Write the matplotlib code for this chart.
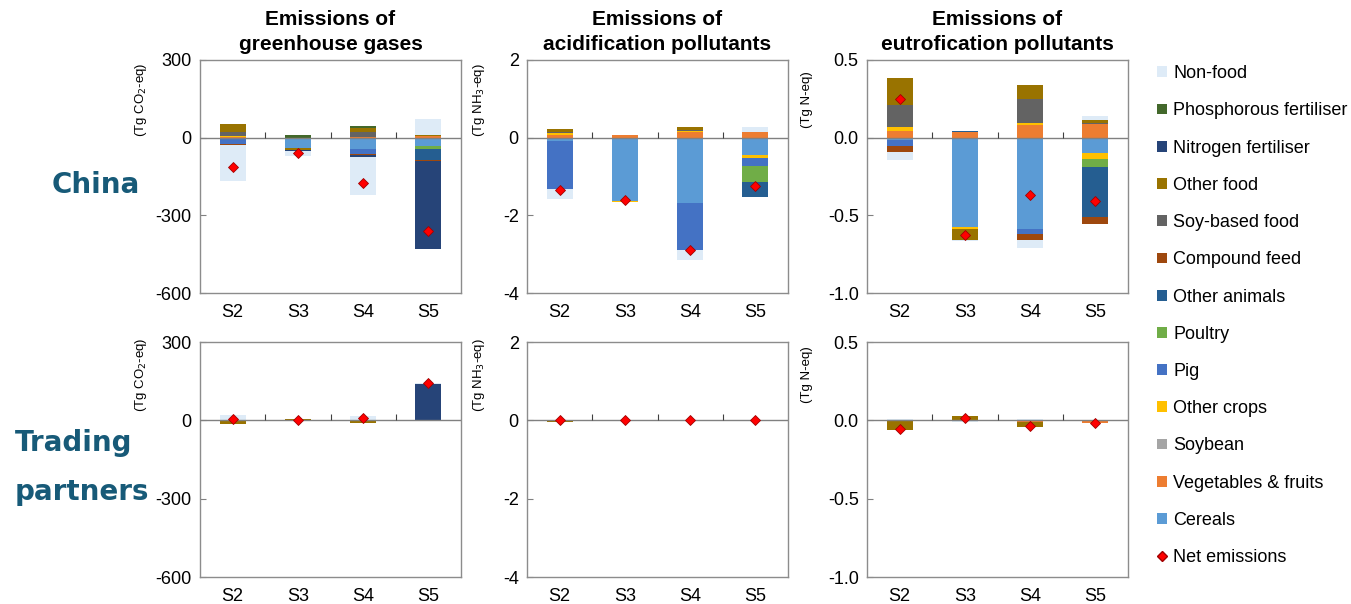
import matplotlib
matplotlib.use("Agg")
import matplotlib.pyplot as plt
from matplotlib.patches import Patch
from matplotlib.lines import Line2D

plt.rcParams['font.family'] = ['Liberation Sans', 'DejaVu Sans']

scenarios = ['S2', 'S3', 'S4', 'S5']

# stacking order, nearest to zero first
series = ['Cereals', 'Vegetables & fruits', 'Soybean', 'Other crops', 'Pig', 'Poultry',
          'Other animals', 'Compound feed', 'Soy-based food', 'Other food',
          'Nitrogen fertiliser', 'Phosphorous fertiliser', 'Non-food']
colors = {
    'Cereals': '#5B9BD5', 'Vegetables & fruits': '#ED7D31', 'Soybean': '#A5A5A5',
    'Other crops': '#FFC000', 'Pig': '#4472C4', 'Poultry': '#70AD47',
    'Other animals': '#255E91', 'Compound feed': '#9E480E', 'Soy-based food': '#636363',
    'Other food': '#997300', 'Nitrogen fertiliser': '#264478',
    'Phosphorous fertiliser': '#43682B', 'Non-food': '#DEEBF7',
}

# China, greenhouse gases (Tg CO2-eq)
ghg_china = {
    'Cereals': [0, -40, -45, -32],
    'Vegetables & fruits': [3, 0, 3, 5],
    'Other crops': [2, 0, 0, 0],
    'Pig': [-23, 0, -17, 0],
    'Poultry': [0, 0, 0, -10],
    'Other animals': [0, 0, 0, -43],
    'Compound feed': [-4, 0, -6, -5],
    'Soy-based food': [18, 0, 20, 0],
    'Other food': [28, -8, 15, 5],
    'Nitrogen fertiliser': [0, -4, -5, -340],
    'Phosphorous fertiliser': [0, 10, 8, 0],
    'Non-food': [-140, -20, -149, 62],
}
ghg_china_net = [-115, -60, -175, -360]

# China, acidification (Tg NH3-eq)
acid_china = {
    'Cereals': [-0.09, -1.63, -1.67, -0.45],
    'Vegetables & fruits': [0.08, 0.08, 0.14, 0.15],
    'Other crops': [0.04, -0.03, 0.03, -0.07],
    'Pig': [-1.22, 0, -1.22, -0.21],
    'Poultry': [0, 0, 0, -0.41],
    'Other animals': [0, 0, 0, -0.38],
    'Compound feed': [0, 0, 0, -0.02],
    'Soy-based food': [0.03, 0, 0.03, 0],
    'Other food': [0.08, 0, 0.07, 0],
    'Non-food': [-0.26, 0, -0.27, 0.13],
}
acid_china_net = [-1.34, -1.60, -2.90, -1.24]

# China, eutrophication (Tg N-eq)
eutro_china = {
    'Cereals': [-0.015, -0.576, -0.585, -0.097],
    'Vegetables & fruits': [0.043, 0.034, 0.082, 0.086],
    'Other crops': [0.028, -0.013, 0.015, -0.043],
    'Pig': [-0.037, 0, -0.037, 0],
    'Poultry': [0, 0, 0, -0.047],
    'Other animals': [0, 0.006, 0, -0.325],
    'Compound feed': [-0.039, 0, -0.039, -0.041],
    'Soy-based food': [0.14, 0, 0.153, 0.006],
    'Other food': [0.176, -0.071, 0.09, 0.019],
    'Non-food': [-0.05, -0.006, -0.05, 0.028],
}
eutro_china_net = [0.247, -0.626, -0.372, -0.41]

# Trading partners
ghg_trade = {
    'Other food': [-14, 4, -9, 0],
    'Nitrogen fertiliser': [0, 0, 0, 138],
    'Non-food': [20, 0, 18, 5],
}
ghg_trade_net = [6, 1, 9, 143]

acid_trade = {
    'Other animals': [0, 0, 0, -0.02],
    'Other food': [-0.03, 0.01, -0.02, 0],
    'Non-food': [0.02, 0, 0.02, 0.01],
}
acid_trade_net = [0, 0, 0, 0]

eutro_trade = {
    'Vegetables & fruits': [0, 0, -0.01, -0.015],
    'Other food': [-0.062, 0.026, -0.033, -0.005],
    'Non-food': [0.007, -0.008, 0.007, 0],
}
eutro_trade_net = [-0.054, 0.017, -0.036, -0.019]

titles = ['Emissions of\ngreenhouse gases', 'Emissions of\nacidification pollutants',
          'Emissions of\neutrofication pollutants']
units = ['(Tg CO$_2$-eq)', '(Tg NH$_3$-eq)', '(Tg N-eq)']
yticks = [[300, 0, -300, -600], [2, 0, -2, -4], [0.5, 0.0, -0.5, -1.0]]
ytick_labels = [['300', '0', '-300', '-600'], ['2', '0', '-2', '-4'],
                ['0.5', '0.0', '-0.5', '-1.0']]

W, H = 1351, 604
col_left = [200, 527, 867]
col_w = 261
rows = [(60, 293), (342, 577)]
label_x = [-0.195, -0.152, -0.208]


def draw_panel(ax, data, net, col):
    pos_base = [0.0] * 4
    neg_base = [0.0] * 4
    for name in series:
        if name not in data:
            continue
        vals = data[name]
        bottoms = []
        for i, v in enumerate(vals):
            if v >= 0:
                bottoms.append(pos_base[i])
                pos_base[i] += v
            else:
                bottoms.append(neg_base[i])
                neg_base[i] += v
        ax.bar(range(4), vals, bottom=bottoms, width=0.4, color=colors[name],
               edgecolor='none', zorder=2)
    ax.plot(range(4), net, linestyle='none', marker='D', markersize=5.5,
            markerfacecolor='#FF0000', markeredgecolor='#A00000', markeredgewidth=0.6,
            zorder=4)
    ax.axhline(0, color='#808080', linewidth=1, zorder=3)
    # little category separators on the zero line
    ax.plot([0.5, 1.5, 2.5], [0, 0, 0], linestyle='none', marker=2, markersize=4,
            color='#404040', markeredgewidth=0.8, zorder=3)
    ax.set_xlim(-0.5, 3.5)
    ax.set_ylim(yticks[col][-1], yticks[col][0])
    ax.set_yticks(yticks[col])
    ax.set_yticklabels(ytick_labels[col])
    ax.set_xticks(range(4))
    ax.set_xticklabels(scenarios)
    ax.tick_params(axis='x', length=0, pad=8, labelsize=13)
    ax.tick_params(axis='y', direction='in', length=4, color='#808080', labelsize=13, pad=6)
    for s in ax.spines.values():
        s.set_color('#8C8C8C')
        s.set_linewidth(1)
    ax.set_ylabel(units[col], fontsize=9.5)


fig = plt.figure(figsize=(W / 100, H / 100), dpi=100)

panels = [
    [(ghg_china, ghg_china_net), (acid_china, acid_china_net), (eutro_china, eutro_china_net)],
    [(ghg_trade, ghg_trade_net), (acid_trade, acid_trade_net), (eutro_trade, eutro_trade_net)],
]

for r, (top, bot) in enumerate(rows):
    for c in range(3):
        ax = fig.add_axes([col_left[c] / W, 1 - bot / H, col_w / W, (bot - top) / H])
        data, net = panels[r][c]
        draw_panel(ax, data, net, c)
        ax.yaxis.set_label_coords(label_x[c], 0.83 if r == 0 else 0.86)
        if r == 0:
            ax.set_title(titles[c], fontsize=15, fontweight='bold', pad=7.5, linespacing=1.4)

row_color = '#175A78'
fig.text(96 / W, 1 - 185 / H, 'China', ha='center', va='center', fontsize=20,
         fontweight='bold', color=row_color, family='DejaVu Sans')
fig.text(15 / W, 1 - 443 / H, 'Trading', ha='left', va='center', fontsize=20,
         fontweight='bold', color=row_color, family='DejaVu Sans')
fig.text(15 / W, 1 - 492 / H, 'partners', ha='left', va='center', fontsize=20,
         fontweight='bold', color=row_color, family='DejaVu Sans')

handles = [Patch(facecolor=colors[n], edgecolor='none') for n in reversed(series)]
labels = list(reversed(series))
handles.append(Line2D([], [], linestyle='none', marker='D', markersize=5,
                      markerfacecolor='#FF0000', markeredgecolor='#A00000'))
labels.append('Net emissions')
fig.legend(handles, labels, loc='upper left', bbox_to_anchor=(1150 / W, 1 - 58 / H),
           frameon=False, fontsize=13, handlelength=0.55, handleheight=0.55,
           handletextpad=0.35, labelspacing=1.12, borderaxespad=0)

fig.savefig('out.png', dpi=100)
